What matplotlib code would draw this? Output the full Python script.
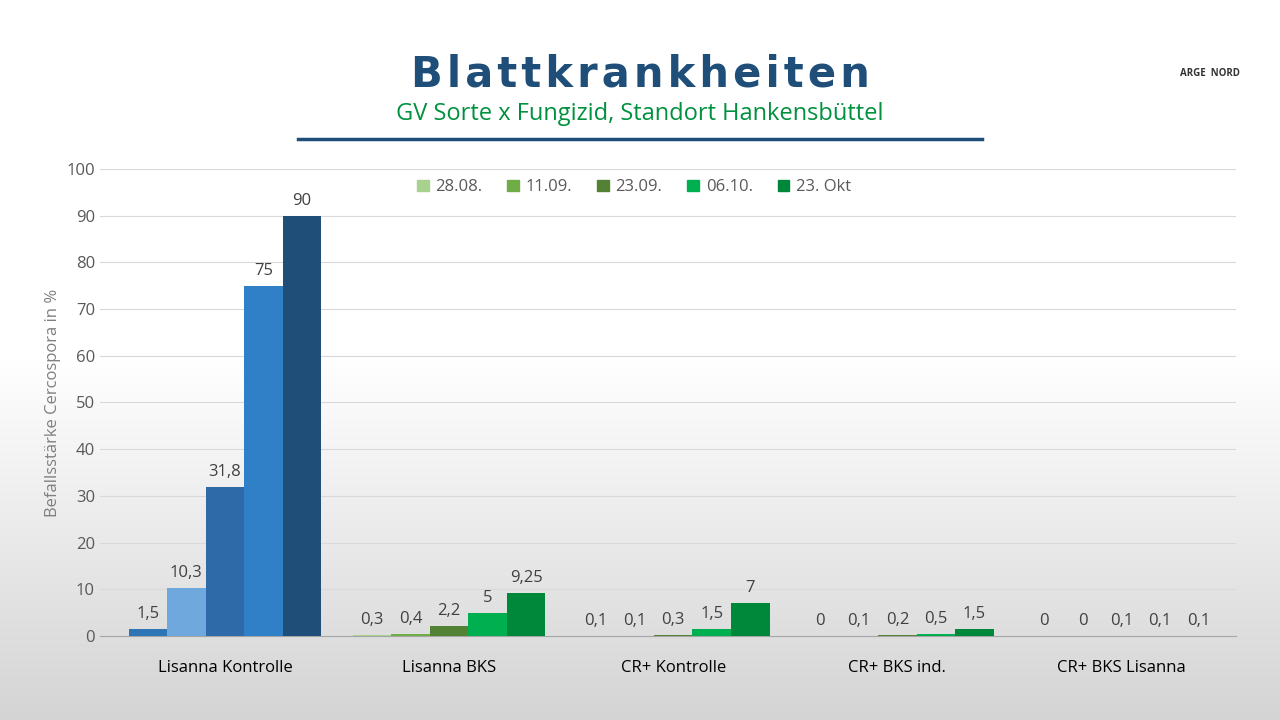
import numpy as np
import matplotlib.pyplot as plt

groups = ['Lisanna Kontrolle', 'Lisanna BKS', 'CR+ Kontrolle', 'CR+ BKS ind.', 'CR+ BKS Lisanna']
dates = ['28.08.', '11.09.', '23.09.', '06.10.', '23. Okt']
values = [
    [1.5, 0.3, 0.1, 0, 0],
    [10.3, 0.4, 0.1, 0.1, 0],
    [31.8, 2.2, 0.3, 0.2, 0.1],
    [75, 5, 1.5, 0.5, 0.1],
    [90, 9.25, 7, 1.5, 0.1],
]
labels = [
    ['1,5', '0,3', '0,1', '0', '0'],
    ['10,3', '0,4', '0,1', '0,1', '0'],
    ['31,8', '2,2', '0,3', '0,2', '0,1'],
    ['75', '5', '1,5', '0,5', '0,1'],
    ['90', '9,25', '7', '1,5', '0,1'],
]
greens = ['#a9d18e', '#70ad47', '#548235', '#00b050', '#00883a']
blues = ['#2e75b6', '#6fa8dc', '#2e6aa8', '#3080c8', '#1f4e79']

plt.rcParams['font.family'] = ['Open Sans', 'DejaVu Sans']
fig = plt.figure(figsize=(12.8, 7.2), dpi=100)

# background gradient
bg = fig.add_axes([0, 0, 1, 1], zorder=-10)
grad = np.linspace(0, 1, 256)[:, None]
bg.imshow(grad, aspect='auto', cmap=plt.matplotlib.colors.LinearSegmentedColormap.from_list('g', ['#d4d4d4', '#ffffff', '#ffffff']), origin='lower', extent=[0, 1, 0, 1])
bg.axis('off')

ax = fig.add_axes([0.078, 0.1167, 0.888, 0.6486])
ax.patch.set_alpha(0)
x = np.arange(len(groups))
w = 0.172
for i, d in enumerate(dates):
    cols = [blues[i]] + [greens[i]] * (len(groups) - 1)
    pos = x + (i - 2) * w
    ax.bar(pos, values[i], w, color=cols, label=d, zorder=3)
    for px, v, t in zip(pos, values[i], labels[i]):
        ax.text(px, v + 1.5, t, ha='center', va='bottom', fontsize=12, color='#404040')

ax.set_xlim(-0.558, 4.513)
ax.set_ylim(0, 100)
ax.set_yticks(range(0, 101, 10))
ax.set_xticks(x)
ax.set_xticklabels(groups, fontsize=12)
ax.tick_params(axis='y', labelsize=12, colors='#595959', length=0)
ax.tick_params(axis='x', length=0, pad=17)
ax.grid(axis='y', color='#d9d9d9', zorder=0)
for s in ['top', 'right', 'left']:
    ax.spines[s].set_visible(False)
ax.spines['bottom'].set_color('#a6a6a6')
ax.set_ylabel('Befallsstärke Cercospora in %', fontsize=12, color='#7f7f7f')
leg = ax.legend(loc='upper center', bbox_to_anchor=(0.47, 1.01), ncol=5, frameon=False,
                fontsize=12, handlelength=0.7, handleheight=0.7, columnspacing=1.5, handletextpad=0.4)
for h, c in zip(leg.legend_handles, greens):
    h.set_color(c)
for t in leg.get_texts():
    t.set_color('#595959')

fig.text(0.5, 0.88, '\u200a'.join('Blattkrankheiten'), ha='center', fontsize=30,
         fontweight='bold', color='#1f4e79', family=['DejaVu Sans'])
fig.text(0.5, 0.833, 'GV Sorte x Fungizid, Standort Hankensbüttel', ha='center', fontsize=17, color='#00913f')
fig.add_artist(plt.Line2D([0.233, 0.767], [0.807, 0.807], color='#1f4e79', lw=2.5))
fig.text(0.945, 0.895, 'ARGE  NORD', ha='center', fontsize=7, fontweight='bold', color='#333333')

fig.savefig('out.png', dpi=100)
